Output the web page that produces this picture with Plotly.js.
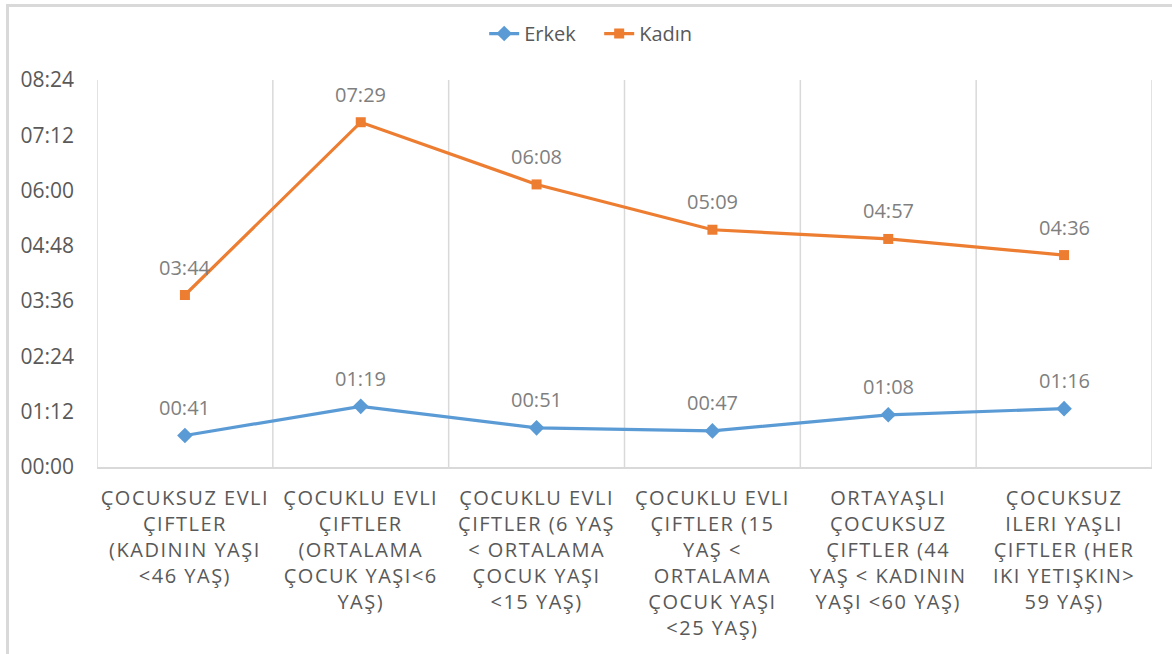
<!DOCTYPE html>
<html><head><meta charset="utf-8">
<script src="https://cdn.plot.ly/plotly-3.0.1.min.js"></script>
<style>
html,body{margin:0;padding:0;background:#fff;}
#wrap{position:relative;width:1172px;height:654px;overflow:hidden;}
#plot{position:absolute;left:0;top:0;width:1172px;height:654px;}
#frame{position:absolute;left:6px;top:4px;width:1180px;height:670px;border-left:3px solid #d9d9d9;border-top:3px solid #d9d9d9;pointer-events:none;}
.xtick text{letter-spacing:1.5px;}
</style></head>
<body><div id="wrap"><div id="plot"></div><div id="frame"></div></div>
<script>
const categories = [
  "ÇOCUKSUZ EVLI<br>ÇIFTLER<br>(KADININ YAŞI<br>&lt;46 YAŞ)",
  "ÇOCUKLU EVLI<br>ÇIFTLER<br>(ORTALAMA<br>ÇOCUK YAŞI&lt;6<br>YAŞ)",
  "ÇOCUKLU EVLI<br>ÇIFTLER (6 YAŞ<br>&lt; ORTALAMA<br>ÇOCUK YAŞI<br>&lt;15 YAŞ)",
  "ÇOCUKLU EVLI<br>ÇIFTLER (15<br>YAŞ &lt;<br>ORTALAMA<br>ÇOCUK YAŞI<br>&lt;25 YAŞ)",
  "ORTAYAŞLI<br>ÇOCUKSUZ<br>ÇIFTLER (44<br>YAŞ &lt; KADININ<br>YAŞI &lt;60 YAŞ)",
  "ÇOCUKSUZ<br>ILERI YAŞLI<br>ÇIFTLER (HER<br>IKI YETIŞKIN&gt;<br>59 YAŞ)"
];
// minutes
const erkek = [41, 79, 51, 47, 68, 76];
const kadin = [224, 449, 368, 309, 297, 276];
const yTickMinutes = [0, 72, 144, 216, 288, 360, 432, 504];

function hhmm(m){const h=Math.floor(m/60), mm=m%60; return String(h).padStart(2,'0')+':'+String(mm).padStart(2,'0');}
const xs = categories.map((c,i)=>i);

const traces = [
  {x: xs, y: erkek, name: 'Erkek', type: 'scatter', mode: 'lines+markers',
   line: {color: '#5B9BD5', width: 3.2}, marker: {symbol: 'diamond', size: 12, color: '#5B9BD5'}},
  {x: xs, y: kadin, name: 'Kadın', type: 'scatter', mode: 'lines+markers',
   line: {color: '#ED7D31', width: 3.2}, marker: {symbol: 'square', size: 10, color: '#ED7D31'}}
];

const annotations = [];
[erkek, kadin].forEach(s => s.forEach((v,i) => annotations.push({
  x: i, y: v, xref: 'x', yref: 'y', text: hhmm(v), showarrow: false,
  yanchor: 'middle', yshift: 28, font: {family: 'Open Sans', size: 20, color: '#7f7f7f'}
})));

const shapes = [];
for (let i = 0; i <= categories.length; i++) {
  shapes.push({type: 'line', xref: 'x', yref: 'paper', x0: i - 0.5, x1: i - 0.5, y0: 0, y1: 1,
    line: {color: '#d9d9d9', width: 1.5}, layer: 'below'});
}

const layout = {
  width: 1172, height: 654,
  margin: {l: 97, r: 20, t: 80, b: 187},
  paper_bgcolor: '#fff', plot_bgcolor: '#fff',
  font: {family: 'Open Sans', color: '#595959'},
  showlegend: true,
  legend: {orientation: 'h', x: 0.476, xanchor: 'center', y: 1.12, yanchor: 'middle',
    entrywidth: 70, entrywidthmode: 'pixels',
    font: {family: 'Open Sans', size: 20, color: '#595959'}},
  xaxis: {range: [-0.5, categories.length - 0.5], tickvals: xs, ticktext: categories,
    showgrid: false, zeroline: false, showline: true, linecolor: '#d9d9d9', linewidth: 1.5,
    ticks: '', tickangle: 0, ticklabelstandoff: 12,
    tickfont: {family: 'Open Sans', size: 20, color: '#595959'}, fixedrange: true},
  yaxis: {range: [0, 504], tickvals: yTickMinutes, ticktext: yTickMinutes.map(hhmm),
    showgrid: false, zeroline: false, showline: false, ticks: '', ticklabelstandoff: 22,
    tickfont: {family: 'Open Sans', size: 21, color: '#595959'}, fixedrange: true},
  annotations: annotations,
  shapes: shapes
};
Plotly.newPlot('plot', traces, layout, {displayModeBar: false, staticPlot: true});
</script></body></html>
